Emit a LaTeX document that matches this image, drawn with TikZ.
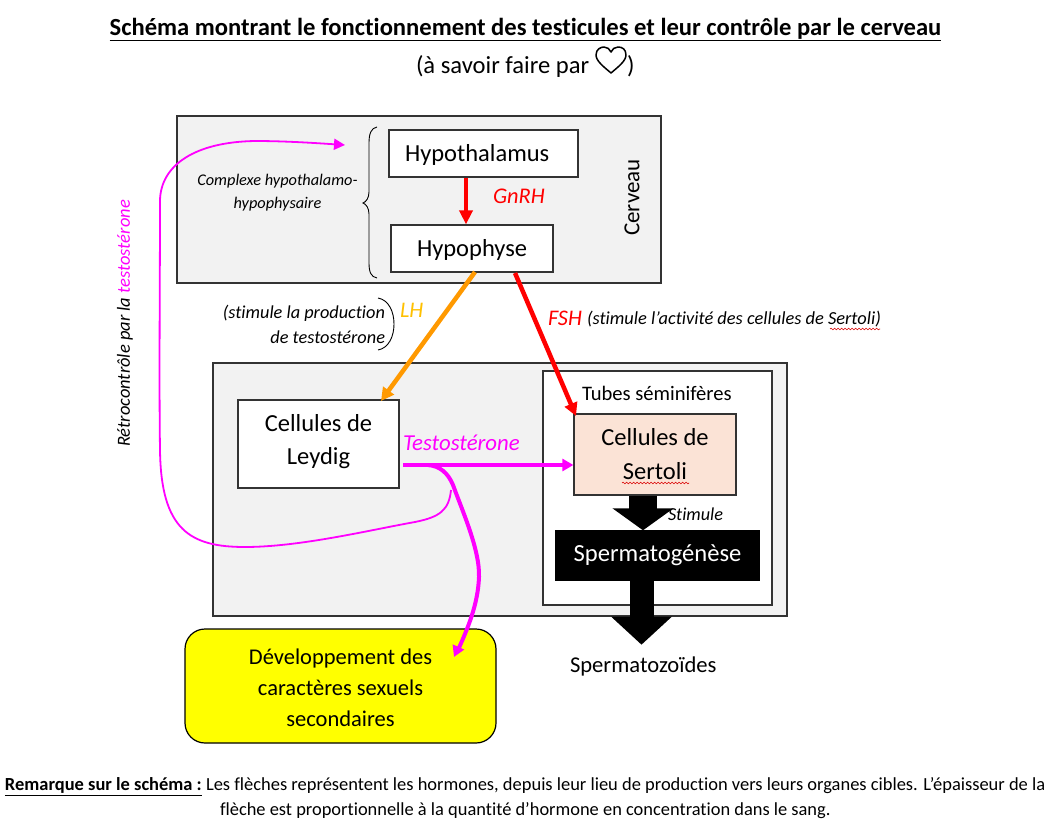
\documentclass[tikz,border=0pt]{standalone}
\usepackage{fontspec}
\setmainfont[Ligatures=NoCommon]{Carlito}
\usetikzlibrary{arrows.meta,decorations.pathmorphing,calc}
\definecolor{panelgrey}{HTML}{F2F2F2}
\definecolor{edgegrey}{HTML}{333333}
\definecolor{sertolifill}{HTML}{FBE3D6}
\definecolor{lhline}{HTML}{FF9900}
\definecolor{lhtext}{HTML}{FFC000}
\definecolor{mag}{HTML}{FF00FF}
\definecolor{pureyellow}{HTML}{FFFF00}
\definecolor{purered}{HTML}{FF0000}
\tikzset{
  x=1pt,y=-1pt,
  panel/.style={draw=edgegrey,line width=1.2pt,fill=panelgrey,inner sep=0pt},
  whitebox/.style={draw=edgegrey,line width=1.2pt,fill=white,inner sep=0pt,align=center},
  lab/.style={inner sep=0pt,outer sep=0pt,align=center},
  fs/.style={font=\fontsize{#1}{#1}\selectfont},
  itl/.style={font=\fontsize{#1}{#1}\selectfont\itshape},
  squig/.style={draw=purered!85!black,line width=.6pt,decorate,decoration={snake,amplitude=.8pt,segment length=3.5pt}},
  redarrow/.style={draw=purered,line width=#1,-{Triangle[length=13pt,width=13pt]}},
  magarrow/.style={draw=mag,line width=#1,-{Triangle[length=11pt,width=12pt]}},
  blockarrow/.style={draw=black,line width=#1,-{Triangle[length=22pt,width=60pt]}},
}
\begin{document}
\begin{tikzpicture}
\useasboundingbox (0,0) rectangle (1053,822);
% title
\node[lab,font=\fontsize{24.6}{28}\selectfont\bfseries] (title) at (525.5,29.5) {\underline{Schéma montrant le fonctionnement des testicules et leur contrôle par le cerveau}};
\node[lab,fs=24.6,anchor=west] (sub) at (416,66.5) {(à savoir faire par};
\node[lab,fs=24.6,anchor=west] (subend) at (627,66.5) {)};
\draw[line width=1.5pt,line join=round] (611,73) .. controls (604,67) and (596,61) .. (596,55) .. controls (596,49) and (601,47) .. (604,47) .. controls (607,47) and (610,49) .. (611,52) .. controls (612,49) and (615,47) .. (618,47) .. controls (622,47) and (626,49) .. (626,55) .. controls (626,61) and (618,67) .. (611,73) -- cycle;
% panels
\node[panel,minimum width=484pt,minimum height=167pt] (brain) at (419,199.5) {};
\node[panel,minimum width=574pt,minimum height=253pt] (testis) at (500,489.5) {};
\node[whitebox,minimum width=229pt,minimum height=234pt] (tubes) at (657.5,488) {};
% boxes
\node[whitebox,fs=24.5,minimum width=189pt,minimum height=47pt,inner xsep=16pt,text width=157pt,align=left] (hypo) at (483.5,153.5) {\rule{0pt}{20pt}Hypothalamus};
\node[whitebox,fs=24.5,minimum width=162pt,minimum height=47pt,inner xsep=26pt,text width=110pt,align=left] (pit) at (472,248.5) {\rule{0pt}{20pt}Hypophyse};
\node[whitebox,minimum width=161pt,minimum height=88pt,font=\fontsize{24.5}{33}\selectfont] (leydig) at (318.5,444) {Cellules de\\Leydig\rule[-9pt]{0pt}{9pt}};
\node[whitebox,fill=sertolifill,minimum width=162pt,minimum height=81pt,font=\fontsize{24.5}{34}\selectfont] (sertoli) at (655,454.5) {Cellules de\\Sertoli};
\node[draw=black,fill=black,text=white,inner sep=0pt,minimum width=204pt,minimum height=50pt,font=\fontsize{24.6}{28}\selectfont] (sperm) at (657.5,555.5) {Spermatogénèse};
\node[draw=black,line width=1.2pt,fill=pureyellow,rounded corners=20pt,inner sep=0pt,minimum width=311pt,minimum height=114pt] (dev) at (340.5,686) {};
\node[lab,font=\fontsize{22.5}{31}\selectfont] (devtxt) at (340.5,687.5) {Développement des\\caractères sexuels\\secondaires};
% squiggles
\draw[squig] (622,483) -- (689,483);
\draw[squig] (830,329) -- (880,329);
% coordinates for free ends
\coordinate (fbstart) at (451,490);
\coordinate (fbend) at (345,145);
\coordinate (tstart) at (403,465);
\coordinate (tsplit) at (428,465);
\coordinate (devtip) at (454,657);
\coordinate (orstart) at (475,272);
\coordinate (ortip) at (381,401);
\coordinate (fsstart) at (515,273);
\coordinate (fstip) at (576,416);
% feedback
\draw[mag,line width=1.8pt,-{Triangle[length=11pt,width=11pt]}] (fbstart) .. controls (449,510) and (440,517) .. (415,522) .. controls (370,530) and (300,547) .. (245,547) .. controls (190,547) and (161,530) .. (160,450) .. controls (159,380) and (160,280) .. (160,200) .. controls (161,165) and (195,142) .. (255,141) .. controls (285,141) and (315,143) .. (fbend);
% testosterone
\draw[mag,line width=4pt,line cap=round] (tsplit) .. controls (440,466) and (448,473) .. (453,485) .. controls (462,510) and (480,550) .. (479,577) .. controls (478,605) and (467,630) .. (458,650);
\draw[magarrow=4pt] (458,648) -- (devtip);
\draw[magarrow=4pt] (tstart) -- (sertoli.west |- tstart);
% hormones
\draw[redarrow=4pt,-{Triangle[length=14pt,width=13pt]}] (hypo.south -| 466,0) -- (pit.north -| 466,0);
\draw[draw=lhline,line width=4.5pt,-{Triangle[length=13pt,width=13pt]}] (orstart) -- (ortip);
\draw[redarrow=4.5pt] (fsstart) -- (fstip);
% block arrows
\draw[blockarrow=28pt] ([xshift=-12pt]sertoli.south) -- ([xshift=-14.5pt]sperm.north);
\draw[blockarrow=24pt,-{Triangle[length=28pt,width=59pt]}] ([xshift=-16pt]sperm.south) -- ++(0,64);
% braces
\draw[black,line width=.9pt] (377,127) .. controls (371,128) and (369,134) .. (369,143) -- (369,192) .. controls (369,198) and (366,202) .. (363,203) .. controls (366,204) and (369,208) .. (369,214) -- (369,263) .. controls (369,272) and (371,277) .. (377,278);
\draw[black,line width=.9pt] (378,298) .. controls (389,300) and (394,312) .. (394,324) .. controls (394,336) and (389,348) .. (378,350);
% labels
\node[lab,itl=22.4,text=purered,anchor=west] (gnrh) at (493,196) {GnRH};
\node[lab,fs=23,rotate=90] (cerv) at (632,197.5) {Cerveau};
\node[lab,font=\fontsize{16.3}{23}\selectfont\itshape] (cplx) at (277.5,192.5) {Complexe hypothalamo-\\hypophysaire};
\node[lab,font=\fontsize{18.3}{25}\selectfont\itshape,align=right,anchor=east] (stim) at (385,324) {(stimule la production\\de testostérone};
\node[lab,itl=22.3,text=lhtext,anchor=west] (lh) at (400,310) {LH};
\node[lab,itl=22.3,text=purered,anchor=west] (fsh) at (548,318) {FSH};
\node[lab,itl=18.4,anchor=west] (fshtxt) at (587,319) {(stimule l’activité des cellules de Sertoli)};
\node[lab,fs=20.6,anchor=west] (tubtxt) at (582,393) {Tubes séminifères};
\node[lab,itl=22.8,text=mag,anchor=west] (testo) at (403,443) {Testostérone};
\node[lab,itl=18.2,anchor=west] (stimule) at (668,514) {Stimule};
\node[lab,fs=22.6,anchor=west] (zoides) at (570,666) {Spermatozoïdes};
\node[lab,font=\fontsize{18.5}{20}\selectfont\itshape,rotate=90] (retro) at (125,323.5) {Rétrocontrôle par la \textcolor{mag}{testostérone}};
% remark
\node[lab,fs=18.46,anchor=west] (rem1) at (5,786.5) {\textbf{\underline{Remarque sur le schéma :}} Les flèches représentent les hormones, depuis leur lieu de production vers leurs organes cibles. L’épaisseur de la};
\node[lab,fs=18.42,anchor=west] (rem2) at (220,811) {flèche est proportionnelle à la quantité d’hormone en concentration dans le sang.};
\end{tikzpicture}
\end{document}
